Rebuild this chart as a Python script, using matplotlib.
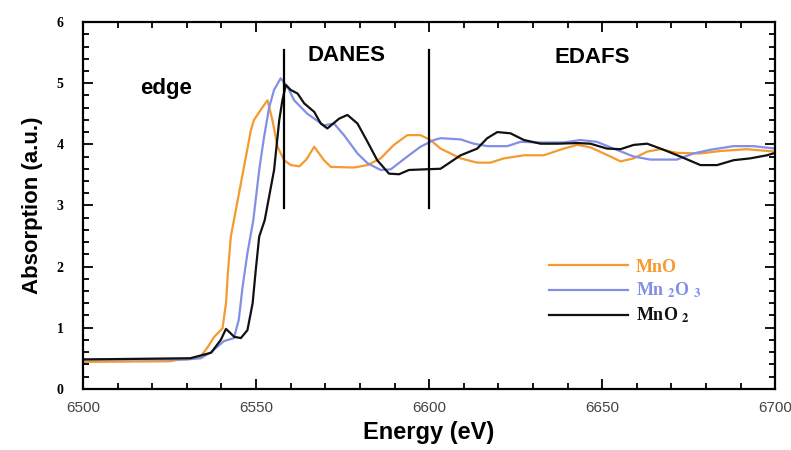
import matplotlib
matplotlib.use("Agg")
import matplotlib.pyplot as plt
from matplotlib.ticker import MultipleLocator

# ---- data ----
mno_x = [6500, 6525, 6527, 6531, 6534, 6536, 6537.9, 6540.3, 6541.3, 6541.9, 6542.7, 6543.6,
         6545.6, 6548.5, 6549.4, 6551.9, 6553.3, 6554.7, 6556.2, 6558.1, 6560, 6562.5, 6564.5,
         6566.8, 6569.6, 6571.6, 6578.3, 6582.2, 6586, 6589.8, 6593.7, 6597.5, 6600.4, 6603.3,
         6609.1, 6613.9, 6617.7, 6621.6, 6627.4, 6633.1, 6638.9, 6642.8, 6646.6, 6652.4, 6655.3,
         6659.1, 6663, 6666.8, 6671.6, 6678.4, 6684.1, 6691.8, 6700]
mno_y = [0.44, 0.45, 0.47, 0.49, 0.53, 0.68, 0.85, 0.99, 1.40, 1.94, 2.49, 2.76,
         3.36, 4.23, 4.40, 4.61, 4.72, 4.40, 3.96, 3.74, 3.66, 3.64, 3.75,
         3.96, 3.74, 3.63, 3.62, 3.66, 3.77, 3.99, 4.15, 4.15, 4.07, 3.93,
         3.77, 3.70, 3.70, 3.77, 3.82, 3.82, 3.93, 3.99, 3.95, 3.80, 3.72,
         3.77, 3.88, 3.92, 3.86, 3.85, 3.89, 3.92, 3.88]

mn2o3_x = [6500, 6530, 6534, 6537, 6540.7, 6543.6, 6545, 6546.1, 6547.5, 6549.2, 6550.9, 6552.3,
           6553.8, 6555.2, 6557.1, 6559.1, 6561, 6564.8, 6569.6, 6572.5, 6575.4, 6579.3, 6582.2,
           6586, 6588.9, 6593.7, 6597.5, 6601.4, 6603.3, 6609.1, 6612.9, 6616.8, 6622.6, 6626.4,
           6632.2, 6638.9, 6643.7, 6648.5, 6653.3, 6659.1, 6663.9, 6671.6, 6676.4, 6681.2, 6688,
           6693.7, 6700]
mn2o3_y = [0.48, 0.48, 0.50, 0.60, 0.78, 0.83, 1.13, 1.67, 2.22, 2.76, 3.58, 4.12,
           4.61, 4.89, 5.08, 4.94, 4.72, 4.50, 4.31, 4.34, 4.15, 3.85, 3.69,
           3.58, 3.59, 3.80, 3.96, 4.07, 4.10, 4.08, 4.01, 3.97, 3.97, 4.04,
           4.03, 4.03, 4.07, 4.04, 3.93, 3.80, 3.75, 3.75, 3.85, 3.91, 3.97,
           3.97, 3.93]

mno2_x = [6500, 6531, 6537, 6539.8, 6541.3, 6543.7, 6545.6, 6547.5, 6549, 6549.9, 6550.9, 6552.5,
          6555.2, 6556.7, 6557.6, 6558.6, 6560, 6562, 6563.9, 6566.8, 6568.7, 6570.6, 6574,
          6576.4, 6579.3, 6582.2, 6585, 6588.4, 6591.3, 6594.2, 6598.5, 6603.3, 6609.1, 6613.9,
          6616.8, 6619.7, 6623.5, 6627.4, 6632.2, 6637, 6642.8, 6646.6, 6651.4, 6655.3, 6659.1,
          6663, 6667.8, 6672.6, 6678.4, 6683.2, 6688, 6692.8, 6697.6, 6700]
mno2_y = [0.48, 0.50, 0.59, 0.80, 0.98, 0.85, 0.83, 0.96, 1.40, 1.94, 2.49, 2.76,
          3.58, 4.40, 4.72, 4.97, 4.89, 4.83, 4.67, 4.53, 4.34, 4.26, 4.42,
          4.48, 4.34, 4.04, 3.74, 3.52, 3.51, 3.58, 3.59, 3.60, 3.82, 3.93,
          4.10, 4.20, 4.18, 4.07, 4.01, 4.01, 4.02, 4.01, 3.93, 3.92, 3.99,
          4.01, 3.91, 3.80, 3.66, 3.66, 3.74, 3.77, 3.82, 3.86]

series_labels = ["MnO", r"Mn $_\mathbf{2}$O $_\mathbf{3}$", r"MnO $_\mathbf{2}$"]
series_colors = ["#F59A2E", "#8190E6", "#111111"]

region_bounds = [6558, 6600]
region_line_y = [2.95, 5.55]
region_names = ["edge", "DANES", "EDAFS"]
region_text_x = [6524, 6576, 6647]
region_text_y = [4.92, 5.46, 5.42]

# ---- figure ----
plt.rcParams['mathtext.fontset'] = 'stix'
fig = plt.figure(figsize=(7.91, 4.5), dpi=100)
ax = fig.add_axes([0.105, 0.136, 0.875, 0.815])

for xs, ys, lab, col in zip([mno_x, mn2o3_x, mno2_x], [mno_y, mn2o3_y, mno2_y],
                            series_labels, series_colors):
    ax.plot(xs, ys, color=col, lw=1.6, label=lab)

for xb in region_bounds:
    ax.plot([xb, xb], region_line_y, color="black", lw=1.6)

for name, tx, ty in zip(region_names, region_text_x, region_text_y):
    ax.text(tx, ty, name, ha="center", va="center", fontsize=16, fontweight="bold",
            family="Liberation Sans")

ax.set_xlim(6500, 6700)
ax.set_ylim(0, 6)
ax.xaxis.set_major_locator(MultipleLocator(50))
ax.xaxis.set_minor_locator(MultipleLocator(10))
ax.yaxis.set_major_locator(MultipleLocator(1))
ax.yaxis.set_minor_locator(MultipleLocator(0.2))
ax.tick_params(which="both", direction="in", top=True, right=True, width=1.3)
ax.tick_params(which="major", length=7)
ax.tick_params(which="minor", length=4)
ax.tick_params(axis="x", which="major", pad=9, labelsize=11, labelcolor="#444444")
ax.tick_params(axis="y", which="major", pad=14, labelsize=10)
for lbl in ax.get_xticklabels():
    lbl.set_family("Liberation Sans")
for lbl in ax.get_yticklabels():
    lbl.set_family("Liberation Serif")
    lbl.set_fontweight("bold")
for sp in ax.spines.values():
    sp.set_linewidth(1.6)

ax.set_xlabel("Energy (eV)", fontsize=17, fontweight="bold", family="Liberation Sans", labelpad=4)
ax.set_ylabel("Absorption (a.u.)", fontsize=16, fontweight="bold", family="Liberation Sans", labelpad=10)

leg = ax.legend(loc="upper left", bbox_to_anchor=(6634.5, 2.13), bbox_transform=ax.transData,
                frameon=False, borderpad=0, borderaxespad=0, handlelength=4.4,
                handletextpad=0.45, labelspacing=0.3, labelcolor="linecolor",
                prop={"family": "Liberation Serif", "weight": "bold", "size": 13})

fig.savefig("out.png", dpi=100)
